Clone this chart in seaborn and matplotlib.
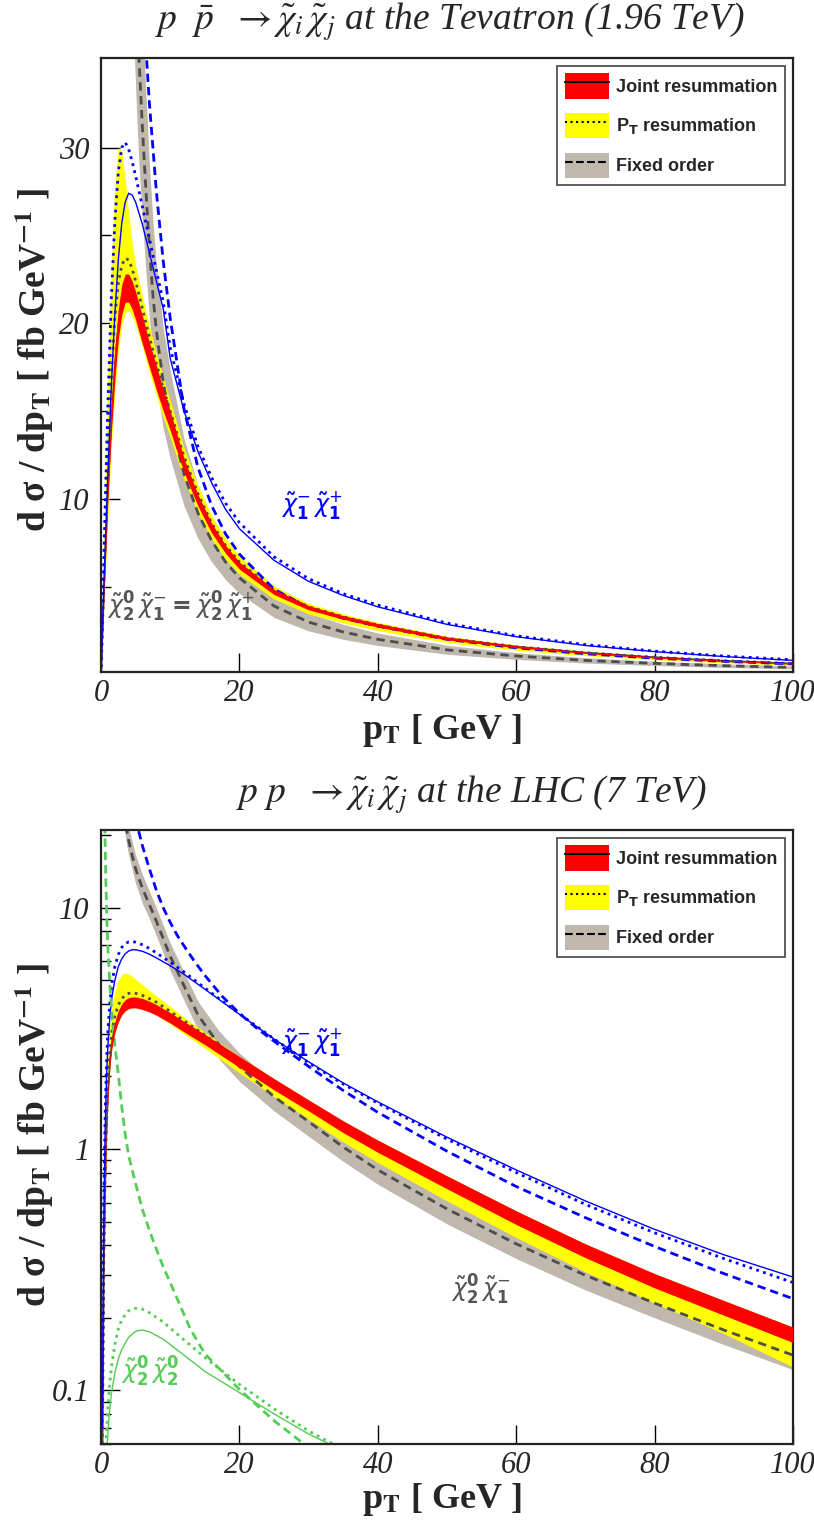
import numpy as np
import matplotlib
matplotlib.use("Agg")
import matplotlib.pyplot as plt
import seaborn as sns
from matplotlib.patches import Patch
from matplotlib.lines import Line2D
from matplotlib.legend_handler import HandlerTuple
from matplotlib.font_manager import FontProperties
from matplotlib.ticker import FixedLocator, LogLocator, NullFormatter, FixedFormatter

# ---------------- Tevatron (linear panel) ----------------
xt = [0, 0.5, 1, 1.5, 2, 2.5, 3, 3.5, 4, 4.5, 5, 6, 7, 8, 9, 10, 12, 14, 16, 18, 20,
      25, 30, 35, 40, 50, 60, 70, 80, 90, 100]
# chi2^0 chi1^+- : joint resummation (centre, band)
joint_t = [0, 5.5, 10.5, 14.5, 17.6, 19.9, 21.3, 22.0, 22.0, 21.6, 21.0, 19.6, 18.2, 16.9, 15.6, 14.4,
           11.9, 9.9, 8.3, 7.1, 6.2, 4.7, 3.8, 3.25, 2.8, 2.05, 1.58, 1.24, 0.98, 0.78, 0.62]
joint_t_lo = [0, 5.2, 10, 13.8, 16.8, 19.1, 20.5, 21.2, 21.2, 20.8, 20.2, 18.8, 17.5, 16.2, 15.0, 13.9,
              11.5, 9.6, 8.05, 6.9, 6.0, 4.55, 3.68, 3.15, 2.7, 1.97, 1.52, 1.2, 0.94, 0.75, 0.59]
joint_t_hi = [0, 5.9, 11.1, 15.3, 18.5, 20.8, 22.2, 22.8, 22.8, 22.4, 21.8, 20.4, 18.9, 17.6, 16.2, 15.0,
              12.3, 10.25, 8.6, 7.35, 6.4, 4.85, 3.92, 3.35, 2.9, 2.13, 1.64, 1.28, 1.02, 0.81, 0.65]
# pT resummation
pt_t = [0, 6.5, 12.5, 17, 20.3, 22.3, 23.3, 23.7, 23.6, 23.1, 22.4, 20.8, 19.2, 17.7, 16.3, 15.0,
        12.4, 10.3, 8.6, 7.35, 6.4, 4.8, 3.85, 3.28, 2.82, 2.06, 1.58, 1.24, 0.98, 0.78, 0.62]
pt_t_hi = [0, 9, 17, 23.5, 27.8, 30.0, 29.8, 28.2, 26.3, 24.6, 23.3, 21.5, 19.8, 18.3, 16.9, 15.6,
           12.9, 10.8, 9.05, 7.75, 6.75, 5.05, 4.05, 3.45, 2.97, 2.18, 1.68, 1.32, 1.05, 0.84, 0.68]
pt_t_lo = [0, 4.5, 9, 13, 16, 18.4, 19.9, 20.6, 20.7, 20.4, 19.9, 18.6, 17.2, 15.9, 14.6, 13.5,
           11.1, 9.2, 7.7, 6.55, 5.7, 4.3, 3.45, 2.93, 2.5, 1.82, 1.38, 1.07, 0.84, 0.66, 0.52]
# fixed order
xfo_t = [4.4, 4.8, 5.2, 5.5, 6, 6.5, 7, 7.5, 8, 9, 10, 12, 14, 16, 18, 20, 25, 30, 35, 40,
         50, 60, 70, 80, 90, 100]
fo_t = [50, 43, 38, 35, 31, 27.5, 24.3, 21.6, 19.6, 16.6, 14.6, 11.4, 9.2, 7.6, 6.4, 5.5, 3.9,
        2.98, 2.42, 2.0, 1.4, 1.05, 0.8, 0.63, 0.5, 0.4]
fo_t_hi = [60, 51.5, 46, 42.5, 37.5, 33, 29, 25.8, 23.3, 19.7, 17.3, 13.4, 10.8, 8.9, 7.5, 6.45,
           4.57, 3.5, 2.85, 2.36, 1.66, 1.24, 0.95, 0.75, 0.6, 0.48]
fo_t_lo = [41, 35.5, 31.5, 29, 25.8, 22.9, 20.3, 18.2, 16.5, 14, 12.3, 9.6, 7.75, 6.4, 5.4, 4.62,
           3.25, 2.48, 2.0, 1.65, 1.15, 0.86, 0.65, 0.51, 0.4, 0.32]
# chi1^+ chi1^-
c11_joint_t = [0, 6, 11.5, 16.5, 20.5, 23.6, 25.7, 26.9, 27.4, 27.3, 26.9, 25.6, 24.0, 22.4, 20.8, 18.0,
               15.0, 12.7, 10.9, 9.4, 8.3, 6.5, 5.3, 4.5, 3.85, 2.85, 2.15, 1.65, 1.3, 1.02, 0.8]
c11_pt_t = [0, 8, 15.5, 21.5, 25.8, 28.6, 30.0, 30.3, 29.9, 29.2, 28.4, 26.6, 24.8, 23.0, 21.2, 18.6,
            15.4, 13.0, 11.2, 9.75, 8.65, 6.7, 5.45, 4.6, 3.95, 2.92, 2.2, 1.7, 1.33, 1.05, 0.84]
xfo11_t = [6.2, 6.6, 7, 8, 9, 10, 12, 14, 16, 18, 20, 25, 30, 35, 40, 50, 60, 70, 80, 90, 100]
c11_fo_t = [38, 35, 32.5, 27.5, 23.5, 20.3, 15.1, 11.8, 9.6, 8.0, 6.85, 4.85, 3.8, 3.2, 2.75, 2.0,
            1.52, 1.18, 0.93, 0.75, 0.6]

# ---------------- LHC (log panel) ----------------
xl = [0.2, 0.4, 0.6, 0.8, 1, 1.3, 1.6, 2, 2.5, 3, 3.5, 4, 4.5, 5, 6, 7, 8, 10, 12, 15, 20,
      25, 30, 35, 40, 50, 60, 70, 80, 90, 100]
joint_l = [0.05, 0.3, 0.7, 1.2, 1.7, 2.35, 2.8, 3.2, 3.55, 3.8, 3.95, 4.03, 4.06, 4.06, 4.0, 3.9, 3.78,
           3.5, 3.22, 2.85, 2.3, 1.86, 1.52, 1.24, 1.03, 0.73, 0.52, 0.38, 0.285, 0.22, 0.17]
joint_l_lo = [0.045, 0.28, 0.66, 1.13, 1.6, 2.22, 2.65, 3.03, 3.36, 3.6, 3.74, 3.82, 3.85, 3.85, 3.79,
              3.7, 3.59, 3.33, 3.06, 2.71, 2.18, 1.76, 1.44, 1.17, 0.97, 0.685, 0.487, 0.355, 0.266,
              0.205, 0.158]
joint_l_hi = [0.055, 0.32, 0.74, 1.27, 1.8, 2.48, 2.95, 3.37, 3.74, 4.0, 4.16, 4.24, 4.27, 4.27, 4.21,
              4.1, 3.97, 3.68, 3.38, 2.99, 2.42, 1.96, 1.6, 1.31, 1.09, 0.775, 0.555, 0.405, 0.305,
              0.236, 0.183]
pt_l = [0.06, 0.35, 0.8, 1.35, 1.9, 2.6, 3.1, 3.55, 3.95, 4.2, 4.35, 4.42, 4.44, 4.42, 4.33, 4.2, 4.06,
        3.72, 3.4, 2.97, 2.35, 1.88, 1.53, 1.24, 1.03, 0.725, 0.515, 0.375, 0.28, 0.215, 0.167]
pt_l_hi = [0.08, 0.5, 1.1, 1.8, 2.5, 3.3, 3.95, 4.5, 5.0, 5.28, 5.37, 5.32, 5.2, 5.05, 4.8, 4.55, 4.32,
           3.9, 3.52, 3.05, 2.42, 1.96, 1.6, 1.31, 1.09, 0.775, 0.555, 0.405, 0.305, 0.236, 0.183]
pt_l_lo = [0.045, 0.28, 0.66, 1.13, 1.6, 2.22, 2.65, 3.03, 3.36, 3.6, 3.74, 3.82, 3.85, 3.85, 3.79, 3.7,
           3.59, 3.3, 3.0, 2.62, 2.07, 1.65, 1.33, 1.07, 0.88, 0.61, 0.43, 0.31, 0.23, 0.172, 0.125]
xfo_l = [3.3, 3.7, 4, 4.5, 5, 6, 7, 8, 10, 12, 14, 17, 20, 25, 30, 35, 40, 50, 60, 70, 80, 90, 100]
fo_l = [25, 21, 19, 16.5, 14.5, 12, 10.3, 8.8, 6.3, 4.75, 3.6, 2.72, 2.2, 1.65, 1.3, 1.02, 0.82, 0.565,
        0.405, 0.3, 0.23, 0.178, 0.14]
fo_l_hi = [28.5, 24, 21.7, 18.8, 16.5, 13.7, 11.7, 10.0, 7.15, 5.4, 4.1, 3.1, 2.5, 1.88, 1.48,
           1.16, 0.93, 0.645, 0.46, 0.34, 0.262, 0.203, 0.16]
fo_l_lo = [21.8, 18.3, 16.5, 14.4, 12.6, 10.4, 9.0, 7.65, 5.5, 4.13, 3.13, 2.37, 1.91, 1.44, 1.13, 0.89,
           0.715, 0.49, 0.352, 0.261, 0.2, 0.155, 0.122]
c11_joint_l = [0.07, 0.5, 1.2, 2.0, 2.7, 3.6, 4.3, 5.0, 5.7, 6.15, 6.45, 6.62, 6.7, 6.7, 6.6, 6.42, 6.2,
               5.75, 5.3, 4.6, 3.62, 2.86, 2.3, 1.88, 1.57, 1.12, 0.82, 0.61, 0.465, 0.365, 0.295]
c11_pt_l = [0.09, 0.6, 1.4, 2.3, 3.1, 4.1, 4.9, 5.7, 6.4, 6.85, 7.1, 7.22, 7.25, 7.2, 7.02, 6.78, 6.5,
            5.95, 5.42, 4.65, 3.64, 2.86, 2.28, 1.86, 1.55, 1.1, 0.8, 0.59, 0.45, 0.352, 0.28]
xfo11_l = [5, 5.4, 6, 7, 8, 9, 10, 11, 12, 13.5, 15, 17.5, 20, 22.5, 25, 30, 35, 40, 50, 60, 70, 80,
           90, 100]
c11_fo_l = [23.5, 21, 18, 14.5, 11.8, 10.0, 8.7, 7.7, 6.95, 6.0, 5.25, 4.3, 3.65, 3.17, 2.8, 2.2, 1.75,
            1.42, 0.98, 0.7, 0.52, 0.395, 0.305, 0.24]
# chi2^0 chi2^0
x22_fo = [0.55, 0.7, 0.85, 1.0, 1.3, 1.7, 2.0, 2.5, 3, 3.5, 4, 5, 6, 7, 8, 9, 10, 12.9, 15, 20, 25, 30, 35]
c22_fo = [22, 13, 8.8, 6.8, 4.7, 3.3, 2.7, 2.05, 1.5, 1.15, 0.94, 0.72, 0.56, 0.46, 0.385, 0.325, 0.28,
          0.18, 0.142, 0.101, 0.075, 0.058, 0.045]
x22_joint = [0.7, 0.9, 1.2, 1.5, 2, 2.5, 3, 4, 5, 6, 7, 9, 12, 15, 20, 25, 30, 33, 36]
c22_joint = [0.05, 0.06, 0.08, 0.097, 0.118, 0.135, 0.148, 0.166, 0.176, 0.178, 0.175, 0.163, 0.14,
             0.12, 0.098, 0.08, 0.066, 0.06, 0.054]
x22_pt = [0.5, 0.7, 1.0, 1.3, 1.6, 2, 2.5, 3, 4, 5, 6, 7, 9, 12, 15, 20, 25, 30, 34, 37]
c22_pt = [0.045, 0.06, 0.085, 0.11, 0.13, 0.155, 0.18, 0.197, 0.214, 0.219, 0.217, 0.21, 0.192, 0.162,
          0.137, 0.106, 0.084, 0.068, 0.059, 0.053]

RED, YEL, GRAYB = "#ff0000", "#ffff00", "#c0b7ad"
LINE = "#4d4d4d"
BLUE = "#0000ff"
GREEN = "#55cc55"

sns.set_theme(style="ticks")
plt.rcParams["font.family"] = ["Liberation Serif", "DejaVu Serif"]
plt.rcParams["mathtext.fontset"] = "stix"

fig = plt.figure(figsize=(8.14, 15.30), dpi=100)
W, H = 814.0, 1530.0
ax1 = fig.add_axes([101 / W, 1 - 672 / H, 692 / W, 614 / H])
ax2 = fig.add_axes([101 / W, 1 - 1444 / H, 692 / W, 614 / H])


def line(ax, x, y, color, ls, lw, dashes=None):
    kw = dict(x=x, y=y, ax=ax, color=color, lw=lw, estimator=None, sort=False, legend=False)
    l = sns.lineplot(linestyle=ls, **kw).lines[-1]
    if dashes is not None:
        l.set_dashes(dashes)
    return l


def panel(ax, xb, jc, jlo, jhi, pc, plo, phi, xf, fc, flo, fhi):
    ax.fill_between(xf, flo, fhi, color=GRAYB, lw=0, zorder=1)
    ax.fill_between(xb, plo, phi, color=YEL, lw=0, zorder=2)
    ax.fill_between(xb, jlo, jhi, color=RED, lw=0, zorder=3)
    line(ax, xf, fc, LINE, "--", 2.0, (3, 2))
    line(ax, xb, pc, LINE, ":", 2.0, (1, 1.6))
    line(ax, xb, jc, LINE, "-", 1.2)


panel(ax1, xt, joint_t, joint_t_lo, joint_t_hi, pt_t, pt_t_lo, pt_t_hi,
      xfo_t, fo_t, fo_t_lo, fo_t_hi)
line(ax1, xt, c11_joint_t, BLUE, "-", 1.0)
line(ax1, xt, c11_pt_t, BLUE, ":", 2.0, (1, 1.6))
line(ax1, xfo11_t, c11_fo_t, BLUE, "--", 2.0, (3, 1.8))

panel(ax2, xl, joint_l, joint_l_lo, joint_l_hi, pt_l, pt_l_lo, pt_l_hi,
      xfo_l, fo_l, fo_l_lo, fo_l_hi)
line(ax2, xl, c11_joint_l, BLUE, "-", 1.0)
line(ax2, xl, c11_pt_l, BLUE, ":", 2.0, (1, 1.6))
line(ax2, xfo11_l, c11_fo_l, BLUE, "--", 2.0, (3, 1.8))
line(ax2, x22_joint, c22_joint, GREEN, "-", 1.0)
line(ax2, x22_pt, c22_pt, GREEN, ":", 2.0, (1, 1.6))
line(ax2, x22_fo, c22_fo, GREEN, "--", 2.0, (3, 1.8))

# axes styling
ax1.set_xlim(0, 100)
ax1.set_ylim(0.14, 35.1)
ax1.yaxis.set_major_locator(FixedLocator([10, 20, 30]))
ax1.yaxis.set_minor_locator(FixedLocator([5, 15, 25]))
ax2.set_yscale("log")
ax2.set_xlim(0, 100)
ax2.set_ylim(0.06, 21)
ax2.yaxis.set_major_locator(FixedLocator([0.1, 1, 10]))
ax2.yaxis.set_major_formatter(FixedFormatter(["0.1", "1", "10"]))
ax2.yaxis.set_minor_locator(LogLocator(base=10, subs=np.arange(2, 10)))
ax2.yaxis.set_minor_formatter(NullFormatter())

fp = FontProperties(family="Liberation Sans", weight="bold", size=13, math_fontfamily="dejavusans")
for ax in (ax1, ax2):
    ax.xaxis.set_major_locator(FixedLocator([0, 20, 40, 60, 80, 100]))
    ax.set_xlabel("")
    ax.set_ylabel("")
    ax.tick_params(axis="both", which="major", direction="in", length=14, width=1.0,
                   color="black", labelsize=22, pad=8)
    ax.tick_params(axis="both", which="minor", direction="in", length=7, width=1.0, color="black")
    ax.tick_params(axis="x", which="major", pad=5)
    for lab in ax.get_xticklabels() + ax.get_yticklabels():
        lab.set_fontstyle("italic")
    for s in ax.spines.values():
        s.set_visible(True)
        s.set_linewidth(1.6)
        s.set_color("#222222")
    ax.set_facecolor("white")

    handles = [(Patch(facecolor=RED, edgecolor="none"), Line2D([], [], color="black", lw=1.5)),
               (Patch(facecolor=YEL, edgecolor="none"), Line2D([], [], color="black", lw=1.5, ls=":")),
               (Patch(facecolor=GRAYB, edgecolor="none"), Line2D([], [], color="black", lw=1.5, ls="--"))]
    leg = ax.legend(handles, ["Joint resummation", r"P$_\mathbf{T}$ resummation", "Fixed order"],
                    handler_map={tuple: HandlerTuple(ndivide=1)}, prop=fp,
                    loc="upper right", bbox_to_anchor=(0.988, 0.987), borderaxespad=0,
                    handlelength=2.45, handleheight=1.78, labelspacing=0.8, handletextpad=0.4,
                    borderpad=0.4, fancybox=False, framealpha=1, edgecolor="#444444")
    leg.get_frame().set_linewidth(1.2)

# titles
fig.text(0.553, 1 - 22 / H,
         r"$p\ \ \bar{p}\ \ \rightarrow \tilde{\chi}_i\,\tilde{\chi}_j$ at the Tevatron (1.96 TeV)",
         ha="center", va="center", fontsize=27, fontstyle="italic")
fig.text(0.579, 1 - 795 / H,
         r"$p\ p\ \ \rightarrow \tilde{\chi}_i\,\tilde{\chi}_j$ at the LHC (7 TeV)",
         ha="center", va="center", fontsize=27, fontstyle="italic")

# axis labels
for yc in (730, 1500):
    fig.text(0.543, 1 - yc / H, r"p$_\mathbf{T}$ [ GeV ]", ha="center", va="center",
             fontsize=26, fontweight="bold")
for yc in (360, 1135):
    fig.text(34 / W, 1 - yc / H, r"d σ / dp$_\mathbf{T}$ [ fb GeV$^\mathbf{-1}$ ]", ha="center",
             va="center", rotation=90, fontsize=27, fontweight="bold")

# process labels
fs = 17
fig.text(312 / W, 1 - 505 / H, r"$\tilde{\chi}^{-}_{\mathbf{1}}\,\tilde{\chi}^{+}_{\mathbf{1}}$",
         color=BLUE, ha="center", va="center", fontsize=fs, math_fontfamily="dejavusans")
fig.text(181 / W, 1 - 607 / H,
         r"$\tilde{\chi}^{\mathbf{0}}_{\mathbf{2}}\,\tilde{\chi}^{-}_{\mathbf{1}}$"
         r"$\mathbf{=}\tilde{\chi}^{\mathbf{0}}_{\mathbf{2}}\,\tilde{\chi}^{+}_{\mathbf{1}}$",
         color="#555555", ha="center", va="center", fontsize=fs, math_fontfamily="dejavusans")
fig.text(312 / W, 1 - 1042 / H, r"$\tilde{\chi}^{-}_{\mathbf{1}}\,\tilde{\chi}^{+}_{\mathbf{1}}$",
         color=BLUE, ha="center", va="center", fontsize=fs, math_fontfamily="dejavusans")
fig.text(481 / W, 1 - 1290 / H, r"$\tilde{\chi}^{\mathbf{0}}_{\mathbf{2}}\,\tilde{\chi}^{-}_{\mathbf{1}}$",
         color="#555555", ha="center", va="center", fontsize=fs, math_fontfamily="dejavusans")
fig.text(150 / W, 1 - 1372 / H, r"$\tilde{\chi}^{\mathbf{0}}_{\mathbf{2}}\,\tilde{\chi}^{\mathbf{0}}_{\mathbf{2}}$",
         color=GREEN, ha="center", va="center", fontsize=fs, math_fontfamily="dejavusans")

fig.savefig("out.png", dpi=100, facecolor="white")
